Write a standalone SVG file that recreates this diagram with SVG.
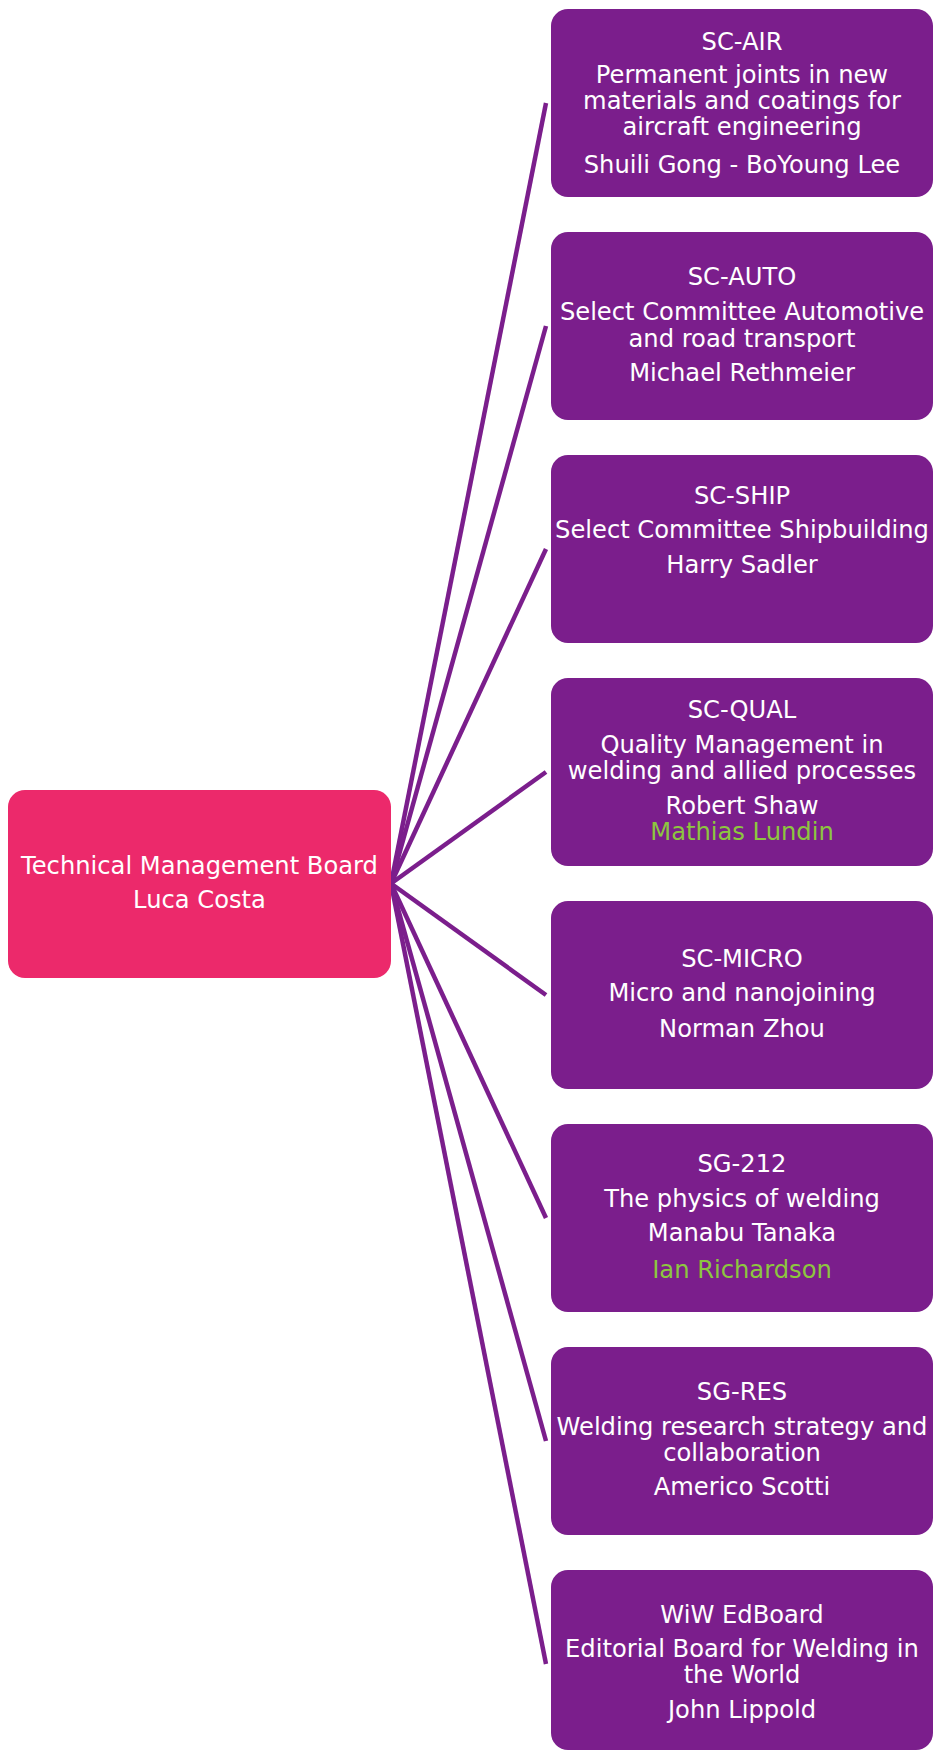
<svg xmlns="http://www.w3.org/2000/svg" width="933" height="1751" viewBox="0 0 933 1751">
<style>
.root{fill:#EC296B}
.box{fill:#7B1E8C}
.conn{stroke:#7B1E8C;stroke-width:4.5;fill:none;stroke-linecap:butt}
text{font-family:"DejaVu Sans",Verdana,sans-serif;font-size:24.2px;fill:#FFFFFF;text-anchor:middle}
text.g{fill:#8DC63F}
</style>
<rect width="933" height="1751" fill="#FFFFFF"/>
<g id="connectors">
<line class="conn" x1="391" y1="883.5" x2="546" y2="103"/>
<line class="conn" x1="391" y1="883.5" x2="546" y2="326"/>
<line class="conn" x1="391" y1="883.5" x2="546" y2="549"/>
<line class="conn" x1="391" y1="883.5" x2="546" y2="772"/>
<line class="conn" x1="391" y1="883.5" x2="546" y2="995"/>
<line class="conn" x1="391" y1="883.5" x2="546" y2="1218"/>
<line class="conn" x1="391" y1="883.5" x2="546" y2="1441"/>
<line class="conn" x1="391" y1="883.5" x2="546" y2="1664"/>
</g>
<g id="root">
<rect class="root" x="8" y="790" width="383" height="188" rx="17"/>
<text x="199.5" y="874">Technical Management Board</text>
<text x="199.5" y="908">Luca Costa</text>
</g>
<g id="sc-air">
<rect class="box" x="551" y="9" width="382" height="188" rx="17"/>
<text x="742" y="50">SC-AIR</text>
<text x="742" y="83">Permanent joints in new</text>
<text x="742" y="109">materials and coatings for</text>
<text x="742" y="135">aircraft engineering</text>
<text x="742" y="173">Shuili Gong - BoYoung Lee</text>
</g>
<g id="sc-auto">
<rect class="box" x="551" y="232" width="382" height="188" rx="17"/>
<text x="742" y="285">SC-AUTO</text>
<text x="742" y="320">Select Committee Automotive</text>
<text x="742" y="346.5">and road transport</text>
<text x="742" y="381">Michael Rethmeier</text>
</g>
<g id="sc-ship">
<rect class="box" x="551" y="455" width="382" height="188" rx="17"/>
<text x="742" y="504">SC-SHIP</text>
<text x="742" y="538">Select Committee Shipbuilding</text>
<text x="742" y="573">Harry Sadler</text>
</g>
<g id="sc-qual">
<rect class="box" x="551" y="678" width="382" height="188" rx="17"/>
<text x="742" y="718">SC-QUAL</text>
<text x="742" y="753">Quality Management in</text>
<text x="742" y="779">welding and allied processes</text>
<text x="742" y="814">Robert Shaw</text>
<text class="g" x="742" y="840">Mathias Lundin</text>
</g>
<g id="sc-micro">
<rect class="box" x="551" y="901" width="382" height="188" rx="17"/>
<text x="742" y="967">SC-MICRO</text>
<text x="742" y="1001">Micro and nanojoining</text>
<text x="742" y="1037">Norman Zhou</text>
</g>
<g id="sg-212">
<rect class="box" x="551" y="1124" width="382" height="188" rx="17"/>
<text x="742" y="1172">SG-212</text>
<text x="742" y="1207">The physics of welding</text>
<text x="742" y="1241">Manabu Tanaka</text>
<text class="g" x="742" y="1278">Ian Richardson</text>
</g>
<g id="sg-res">
<rect class="box" x="551" y="1347" width="382" height="188" rx="17"/>
<text x="742" y="1400">SG-RES</text>
<text x="742" y="1435">Welding research strategy and</text>
<text x="742" y="1461">collaboration</text>
<text x="742" y="1495">Americo Scotti</text>
</g>
<g id="wiw-edboard">
<rect class="box" x="551" y="1570" width="382" height="180" rx="17"/>
<text x="742" y="1623">WiW EdBoard</text>
<text x="742" y="1657">Editorial Board for Welding in</text>
<text x="742" y="1683">the World</text>
<text x="742" y="1718">John Lippold</text>
</g>
</svg>
